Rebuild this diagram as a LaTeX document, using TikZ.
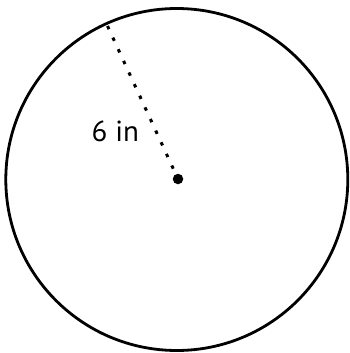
\documentclass[tikz,border=0pt]{standalone}
\usepackage{fontspec}
\setmainfont{PT Sans}
\begin{document}
\begin{tikzpicture}[x=1pt,y=-1pt,
  rim/.style={draw, line width=2.8pt},
  ctr/.style={circle, fill, inner sep=0pt, minimum size=10.5pt},
  rad/.style={line width=3pt, dash pattern=on 3.5pt off 9.3pt},
  lbl/.style={font=\fontsize{29}{29}\selectfont, inner sep=0pt}]
\useasboundingbox (0,0) rectangle (349,353);
\coordinate (c) at (176.8,179.5);
\draw[rim] (c) circle[radius=171];
\node[ctr] (dot) at (178,179) {};
\coordinate (e) at (107.5,26);
\draw[rad] (e) -- (dot.center) ;
\node[lbl, anchor=base west] (t) at (91.5,141) {6 in};
\end{tikzpicture}
\end{document}
